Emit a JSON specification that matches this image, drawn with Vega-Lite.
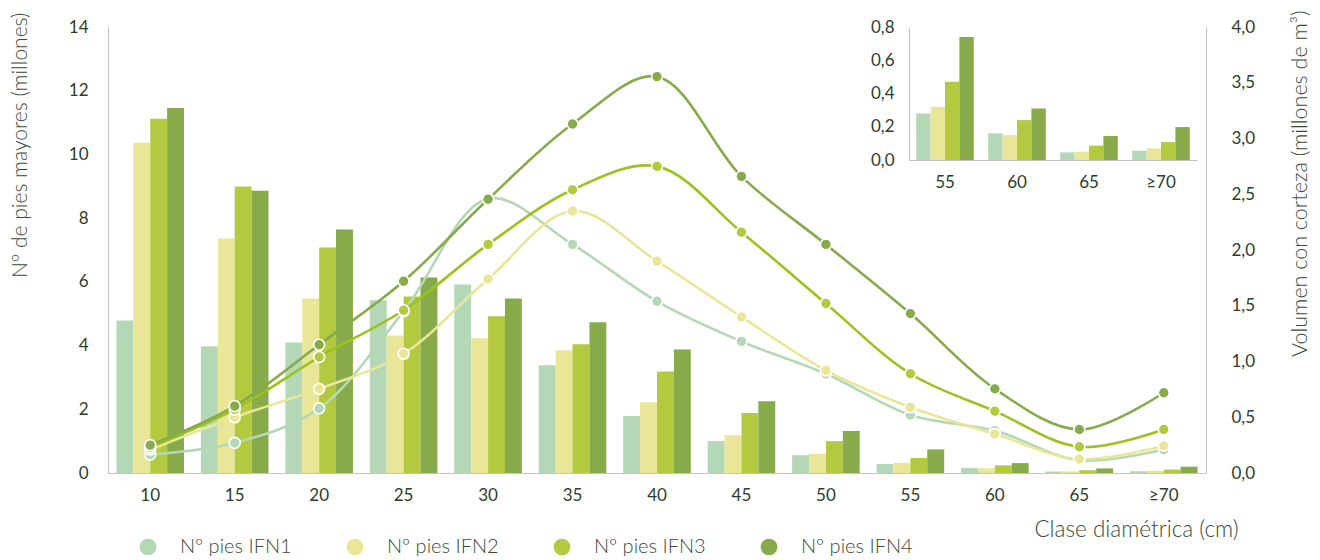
{
  "$schema": "https://vega.github.io/schema/vega-lite/v6.json",
  "width": 1098,
  "height": 446,
  "autosize": {"type": "none"},
  "padding": {"left": 108, "top": 27, "right": 114, "bottom": 87},
  "config": {
    "view": {"stroke": null},
    "font": "Lato",
    "axis": {
      "ticks": false,
      "grid": false,
      "domainColor": "#c4c4c4",
      "domainWidth": 1.2,
      "labelFont": "Lato",
      "labelFontSize": 17,
      "labelColor": "#2e3d2e",
      "titleFont": "Lato",
      "titleFontWeight": 300,
      "titleFontSize": 21,
      "titleColor": "#3a4a3a"
    }
  },
  "data": {
    "values": [
      {"cat": "10", "serie": "IFN1", "n": 4.79, "vol": 0.165},
      {"cat": "10", "serie": "IFN2", "n": 10.37, "vol": 0.21},
      {"cat": "10", "serie": "IFN3", "n": 11.12, "vol": 0.23},
      {"cat": "10", "serie": "IFN4", "n": 11.46, "vol": 0.25},
      {"cat": "15", "serie": "IFN1", "n": 3.98, "vol": 0.27},
      {"cat": "15", "serie": "IFN2", "n": 7.36, "vol": 0.5},
      {"cat": "15", "serie": "IFN3", "n": 8.99, "vol": 0.57},
      {"cat": "15", "serie": "IFN4", "n": 8.86, "vol": 0.6},
      {"cat": "20", "serie": "IFN1", "n": 4.1, "vol": 0.58},
      {"cat": "20", "serie": "IFN2", "n": 5.48, "vol": 0.755},
      {"cat": "20", "serie": "IFN3", "n": 7.08, "vol": 1.04},
      {"cat": "20", "serie": "IFN4", "n": 7.64, "vol": 1.15},
      {"cat": "25", "serie": "IFN1", "n": 5.42, "vol": 1.45},
      {"cat": "25", "serie": "IFN2", "n": 4.32, "vol": 1.07},
      {"cat": "25", "serie": "IFN3", "n": 5.54, "vol": 1.46},
      {"cat": "25", "serie": "IFN4", "n": 6.14, "vol": 1.72},
      {"cat": "30", "serie": "IFN1", "n": 5.92, "vol": 2.46},
      {"cat": "30", "serie": "IFN2", "n": 4.23, "vol": 1.74},
      {"cat": "30", "serie": "IFN3", "n": 4.92, "vol": 2.05},
      {"cat": "30", "serie": "IFN4", "n": 5.48, "vol": 2.455},
      {"cat": "35", "serie": "IFN1", "n": 3.38, "vol": 2.05},
      {"cat": "35", "serie": "IFN2", "n": 3.85, "vol": 2.35},
      {"cat": "35", "serie": "IFN3", "n": 4.04, "vol": 2.54},
      {"cat": "35", "serie": "IFN4", "n": 4.73, "vol": 3.13},
      {"cat": "40", "serie": "IFN1", "n": 1.79, "vol": 1.54},
      {"cat": "40", "serie": "IFN2", "n": 2.22, "vol": 1.9},
      {"cat": "40", "serie": "IFN3", "n": 3.19, "vol": 2.75},
      {"cat": "40", "serie": "IFN4", "n": 3.88, "vol": 3.555},
      {"cat": "45", "serie": "IFN1", "n": 1.0, "vol": 1.18},
      {"cat": "45", "serie": "IFN2", "n": 1.19, "vol": 1.4},
      {"cat": "45", "serie": "IFN3", "n": 1.88, "vol": 2.16},
      {"cat": "45", "serie": "IFN4", "n": 2.25, "vol": 2.66},
      {"cat": "50", "serie": "IFN1", "n": 0.56, "vol": 0.89},
      {"cat": "50", "serie": "IFN2", "n": 0.6, "vol": 0.92},
      {"cat": "50", "serie": "IFN3", "n": 1.0, "vol": 1.52},
      {"cat": "50", "serie": "IFN4", "n": 1.32, "vol": 2.05},
      {"cat": "55", "serie": "IFN1", "n": 0.28, "vol": 0.52},
      {"cat": "55", "serie": "IFN2", "n": 0.32, "vol": 0.59},
      {"cat": "55", "serie": "IFN3", "n": 0.47, "vol": 0.89},
      {"cat": "55", "serie": "IFN4", "n": 0.74, "vol": 1.43},
      {"cat": "60", "serie": "IFN1", "n": 0.16, "vol": 0.38},
      {"cat": "60", "serie": "IFN2", "n": 0.15, "vol": 0.35},
      {"cat": "60", "serie": "IFN3", "n": 0.24, "vol": 0.555},
      {"cat": "60", "serie": "IFN4", "n": 0.31, "vol": 0.755},
      {"cat": "65", "serie": "IFN1", "n": 0.046, "vol": 0.115},
      {"cat": "65", "serie": "IFN2", "n": 0.05, "vol": 0.125},
      {"cat": "65", "serie": "IFN3", "n": 0.086, "vol": 0.235},
      {"cat": "65", "serie": "IFN4", "n": 0.144, "vol": 0.39},
      {"cat": "≥70", "serie": "IFN1", "n": 0.056, "vol": 0.21},
      {"cat": "≥70", "serie": "IFN2", "n": 0.07, "vol": 0.245},
      {"cat": "≥70", "serie": "IFN3", "n": 0.108, "vol": 0.39},
      {"cat": "≥70", "serie": "IFN4", "n": 0.198, "vol": 0.72}
    ]
  },
  "layer": [
    {
      "encoding": {
        "x": {
          "field": "cat",
          "type": "nominal",
          "sort": ["10", "15", "20", "25", "30", "35", "40", "45", "50", "55", "60", "65", "≥70"],
          "scale": {"type": "band", "paddingInner": 0.2, "paddingOuter": 0.1},
          "axis": {
            "orient": "bottom",
            "labelAngle": 0,
            "labelPadding": 14,
            "title": "Clase diamétrica (cm)",
            "titleFontSize": 22.5,
            "titleX": 1130,
            "titleY": 56,
            "titleAlign": "right",
            "titleBaseline": "middle"
          }
        }
      },
      "layer": [
        {
          "mark": {"type": "bar"},
          "encoding": {
            "xOffset": {"field": "serie", "type": "nominal", "scale": {"paddingInner": 0}},
            "y": {
              "field": "n",
              "type": "quantitative",
              "scale": {"domain": [0, 14]},
              "axis": {
                "orient": "left",
                "values": [0, 2, 4, 6, 8, 10, 12, 14],
                "labelPadding": 20,
                "title": "Nº de pies mayores (millones)",
                "titleAngle": 270,
                "titleX": -88,
                "titleY": -15,
                "titleAlign": "right",
                "titleBaseline": "middle"
              }
            },
            "color": {
              "field": "serie",
              "type": "nominal",
              "scale": {"domain": ["IFN1", "IFN2", "IFN3", "IFN4"], "range": ["#b4d8b6", "#e9e797", "#b3c940", "#87aa4a"]},
              "legend": {
                "orient": "none",
                "legendX": 30,
                "legendY": 510,
                "direction": "horizontal",
                "title": null,
                "symbolType": "circle",
                "symbolSize": 280,
                "symbolStrokeWidth": 0,
                "labelExpr": "'Nº pies ' + datum.label",
                "labelFont": "Lato",
                "labelFontSize": 20,
                "labelFontWeight": 300,
                "labelColor": "#3a4a3a",
                "labelOffset": 22,
                "columnPadding": 53
              }
            }
          }
        },
        {
          "encoding": {
            "y": {
              "field": "vol",
              "type": "quantitative",
              "scale": {"domain": [0, 4]},
              "axis": {
                "orient": "right",
                "values": [0, 0.5, 1, 1.5, 2, 2.5, 3, 3.5, 4],
                "labelExpr": "replace(format(datum.value, '.1f'), '.', ',')",
                "labelPadding": 25,
                "title": "Volumen con corteza (millones de m³)",
                "titleFontSize": 21.5,
                "titleAngle": 270,
                "titleX": 94,
                "titleY": -17,
                "titleAlign": "right",
                "titleBaseline": "middle"
              }
            }
          },
          "layer": [
            {
              "mark": {"type": "line", "interpolate": "catmull-rom", "strokeWidth": 2.6},
              "encoding": {
                "stroke": {
                  "field": "serie",
                  "type": "nominal",
                  "scale": {"domain": ["IFN1", "IFN2", "IFN3", "IFN4"], "range": ["#b4d8b6", "#e9e797", "#9cc21e", "#87aa4a"]},
                  "legend": null
                }
              }
            },
            {
              "mark": {"type": "circle", "size": 120, "opacity": 1, "stroke": "white", "strokeWidth": 1.6},
              "encoding": {
                "color": {"field": "serie", "type": "nominal", "legend": null}
              }
            }
          ]
        }
      ],
      "resolve": {"scale": {"y": "independent"}}
    },
    {
      "transform": [{"filter": {"field": "cat", "oneOf": ["55", "60", "65", "≥70"]}}],
      "mark": {"type": "bar"},
      "encoding": {
        "x": {
          "field": "cat",
          "type": "nominal",
          "sort": ["55", "60", "65", "≥70"],
          "scale": {"type": "band", "range": [801, 1089], "paddingInner": 0.2, "paddingOuter": 0.1},
          "axis": {"orient": "bottom", "offset": -313, "labelAngle": 0, "labelPadding": 14, "title": null}
        },
        "xOffset": {"field": "serie", "type": "nominal", "scale": {"paddingInner": 0}},
        "y": {
          "field": "n",
          "type": "quantitative",
          "scale": {"domain": [0, 0.8], "range": [133, 0]},
          "axis": {
            "orient": "left",
            "offset": -801,
            "values": [0, 0.2, 0.4, 0.6, 0.8],
            "labelExpr": "replace(format(datum.value, '.1f'), '.', ',')",
            "labelPadding": 15,
            "title": null
          }
        },
        "color": {"field": "serie", "type": "nominal", "legend": null}
      }
    }
  ],
  "resolve": {"scale": {"x": "independent", "y": "independent", "xOffset": "independent"}}
}
